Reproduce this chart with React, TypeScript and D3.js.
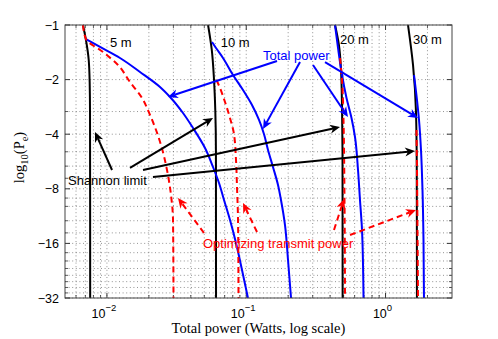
import React from "react";
import * as d3 from "d3";

// log10(Pe) vs total power, one curve per link distance
const distances = ["5 m", "10 m", "20 m", "30 m"];

// Shannon limit (black)
const limit5 = [[0.00673, -1], [0.00707, -1.21], [0.0074, -1.56], [0.00752, -2.1], [0.00756, -3], [0.00758, -32]];
const limit10 = [[0.0532, -1], [0.0565, -1.36], [0.0587, -2.0], [0.06, -3.0], [0.0606, -5], [0.0607, -32]];
const limit20 = [[0.434, -1], [0.463, -1.29], [0.479, -1.77], [0.487, -2.8], [0.491, -5], [0.492, -32]];
const limit30 = [[1.45, -1], [1.575, -1.66], [1.654, -3.0], [1.675, -6], [1.68, -32]];

// total power (blue)
const total5 = [[0.00707, -1.195], [0.00892, -1.322], [0.01241, -1.52], [0.01727, -1.816], [0.02404, -2.197], [0.02837, -2.494], [0.03516, -3.056], [0.04148, -3.696], [0.0506, -4.766], [0.05774, -6.066], [0.06377, -7.43], [0.06926, -9.22], [0.07647, -11.89], [0.08444, -15.92], [0.09326, -22.43], [0.1029, -32]];
const total10 = [[0.0568, -1.241], [0.06067, -1.339], [0.0681, -1.52], [0.08036, -1.887], [0.0948, -2.282], [0.11, -2.761], [0.1235, -3.34], [0.1342, -4], [0.1434, -4.889], [0.1556, -6.066], [0.1691, -7.62], [0.1776, -9.22], [0.1898, -12.67], [0.1995, -19.76], [0.2097, -32]];
const total20 = [[0.4338, -1], [0.4559, -1.339], [0.483, -1.816], [0.5246, -2.526], [0.5697, -3.257], [0.6036, -4.145], [0.6345, -6.3], [0.6555, -9.22], [0.6779, -13.5], [0.695, -32]];
const total30 = [[1.601, -1.887], [1.682, -2.591], [1.739, -3.34], [1.797, -4.889], [1.842, -8.12], [1.873, -15.33], [1.888, -32]];

// optimizing transmit power (red dashed)
const optim5 = [[0.00673, -1], [0.00707, -1.195], [0.00937, -1.409], [0.012, -1.662], [0.01464, -2.062], [0.01786, -2.526], [0.02038, -3.135], [0.02251, -3.792], [0.02444, -4.588], [0.02699, -6.3], [0.02884, -8.655], [0.02981, -11.89], [0.03005, -32]];
const optim10 = [[0.06116, -2.01], [0.0648, -2.225], [0.0704, -2.658], [0.07647, -3.257], [0.0817, -4], [0.08444, -5.551], [0.08585, -7.82], [0.0873, -11.89], [0.088, -32]];
const optim20 = [[0.4712, -1.52], [0.4869, -2.01], [0.4992, -3.34], [0.5075, -9.22], [0.5116, -32]];
const optim30 = [[1.668, -3.792], [1.682, -6.3], [1.696, -13.5], [1.71, -32]];

const yTicks = [-1, -2, -4, -8, -16, -32];
const yMinor = [-3, -5, -6, -7, -9, -10, -12, -14, -18, -20, -22, -24, -26, -28, -30];
const xTicks = [0.01, 0.1, 1];
const xTickExp = ["\u22122", "\u22121", "0"];

// annotation anchors, data coords
const distLabelPos = [[0.01052, -1.314], [0.06555, -1.314], [0.4712, -1.265], [1.575, -1.265]];
const totalLabelPos = [0.132, -1.559];
const totalArrows = [
  [[0.1663, -1.579], [0.02744, -2.494]],
  [[0.2432, -1.6], [0.132, -3.744]],
  [[0.3015, -1.662], [0.5376, -3.216]],
  [[0.3677, -1.6], [1.71, -3.257]],
];
const shannonLabelPos = [0.005254, -7.62];
const shannonArrows = [
  [[0.01088, -6.3], [0.00821, -3.89]],
  [[0.01464, -6.14], [0.05774, -3.257]],
  [[0.01816, -6.3], [0.4712, -3.65]],
  [[0.0214, -6.888], [1.628, -4.95]],
];
const optimLabelPos = [0.04894, -16.96];
const optimArrows = [
  [[0.04975, -14.02], [0.03238, -8.99]],
  [[0.1195, -13.84], [0.0948, -9.58]],
  [[0.4266, -13.5], [0.5034, -9.1]],
  [[0.556, -14.38], [1.654, -10.47]],
];

const W = 498, H = 339;
const L = 65, R = 452, T = 25, B = 298;
const SANS = "'Liberation Sans', Arial, Helvetica, sans-serif";
const SERIF = "'Liberation Serif', 'Times New Roman', serif";
const BLUE = "#0000ff", RED = "#ff0000";

const x = d3.scaleLog().domain([0.005, 3]).range([L, R]);
const y = d3.scaleLog().domain([1, 32]).range([T, B]);
const px = (d: number[]) => [x(d[0]), y(-d[1])];

const line = d3
  .line<number[]>()
  .x((d) => x(d[0]))
  .y((d) => y(-d[1]))
  .curve(d3.curveMonotoneY);

function Arrow({ from, to, color, dashed }: any) {
  const [x0, y0] = px(from);
  const [x1, y1] = px(to);
  const len = Math.hypot(x1 - x0, y1 - y0);
  const ux = (x1 - x0) / len, uy = (y1 - y0) / len;
  const nx = -uy, ny = ux;
  const hl = 10, hw = 4.5;
  const bx = x1 - ux * hl, by = y1 - uy * hl;
  const mx = x1 - ux * hl * 0.7, my = y1 - uy * hl * 0.7;
  const head = [
    [x1, y1],
    [bx + nx * hw, by + ny * hw],
    [mx, my],
    [bx - nx * hw, by - ny * hw],
  ];
  return (
    <g>
      <line x1={x0} y1={y0} x2={mx} y2={my} stroke={color} strokeWidth={2}
        strokeDasharray={dashed ? "6,4" : undefined} />
      <polygon points={head.map((p) => p.join(",")).join(" ")} fill={color} />
    </g>
  );
}

export default function App() {
  const xMinor: number[] = [];
  for (let k = -3; k <= 0; k++)
    for (let m = 1; m <= 9; m++) {
      const v = m * Math.pow(10, k);
      if (v > 0.005 && v < 3 && !xTicks.includes(+v.toPrecision(3))) xMinor.push(v);
    }

  const limits = [limit5, limit10, limit20, limit30];
  const totals = [total5, total10, total20, total30];
  const optims = [optim5, optim10, optim20, optim30];

  const grid = { stroke: "#666", strokeWidth: 0.7, strokeDasharray: "1,2.6" };

  return (
    <svg width={W} height={H} style={{ position: "absolute", left: 0, top: 0, background: "#fff" }}>
      <rect x={L} y={T} width={R - L} height={B - T} fill="#fff" />
      {/* grid */}
      {[...xMinor, ...xTicks].map((v, i) => (
        <line key={"gx" + i} x1={x(v)} x2={x(v)} y1={T} y2={B} {...grid} />
      ))}
      {[...yMinor, ...yTicks].map((v, i) => (
        <line key={"gy" + i} x1={L} x2={R} y1={y(-v)} y2={y(-v)} {...grid} />
      ))}
      {/* ticks */}
      {xTicks.map((v, i) => (
        <g key={"tx" + i} stroke="#333" strokeWidth={1}>
          <line x1={x(v)} x2={x(v)} y1={B} y2={B - 5} />
          <line x1={x(v)} x2={x(v)} y1={T} y2={T + 5} />
        </g>
      ))}
      {xMinor.map((v, i) => (
        <g key={"tmx" + i} stroke="#333" strokeWidth={0.8}>
          <line x1={x(v)} x2={x(v)} y1={B} y2={B - 3} />
          <line x1={x(v)} x2={x(v)} y1={T} y2={T + 3} />
        </g>
      ))}
      {yTicks.map((v, i) => (
        <g key={"ty" + i} stroke="#333" strokeWidth={1}>
          <line x1={L} x2={L + 5} y1={y(-v)} y2={y(-v)} />
          <line x1={R} x2={R - 5} y1={y(-v)} y2={y(-v)} />
        </g>
      ))}
      {yMinor.map((v, i) => (
        <g key={"tmy" + i} stroke="#333" strokeWidth={0.8}>
          <line x1={L} x2={L + 3} y1={y(-v)} y2={y(-v)} />
          <line x1={R} x2={R - 3} y1={y(-v)} y2={y(-v)} />
        </g>
      ))}

      {/* curves */}
      {limits.map((d, i) => (
        <path key={"l" + i} d={line(d) || ""} fill="none" stroke="#000" strokeWidth={2} />
      ))}
      {totals.map((d, i) => (
        <path key={"t" + i} d={line(d) || ""} fill="none" stroke={BLUE} strokeWidth={2} />
      ))}
      {optims.map((d, i) => (
        <path key={"o" + i} d={line(d) || ""} fill="none" stroke={RED} strokeWidth={2} strokeDasharray="6,4" />
      ))}

      {/* annotations */}
      <g fontFamily={SANS} fontSize={13}>
        {distances.map((s, i) => (
          <text key={"d" + i} x={px(distLabelPos[i])[0]} y={px(distLabelPos[i])[1]} fill="#000">{s}</text>
        ))}
        <text x={px(totalLabelPos)[0]} y={px(totalLabelPos)[1]} fill={BLUE}>Total power</text>
        <text x={px(shannonLabelPos)[0]} y={px(shannonLabelPos)[1]} fill="#000">Shannon limit</text>
        <text x={px(optimLabelPos)[0]} y={px(optimLabelPos)[1]} fill={RED}>Optimizing transmit power</text>
      </g>
      {totalArrows.map((a, i) => <Arrow key={"ta" + i} from={a[0]} to={a[1]} color={BLUE} />)}
      {shannonArrows.map((a, i) => <Arrow key={"sa" + i} from={a[0]} to={a[1]} color="#000" />)}
      {optimArrows.map((a, i) => <Arrow key={"oa" + i} from={a[0]} to={a[1]} color={RED} dashed />)}

      {/* box */}
      <rect x={L} y={T} width={R - L} height={B - T} fill="none" stroke="#444" strokeWidth={1} />

      {/* tick labels */}
      <g fontFamily={SANS} fontSize={12.5} fill="#000">
        {yTicks.map((v, i) => (
          <text key={"yl" + i} x={L - 6} y={y(-v) + 4.5} textAnchor="end">{String(v).replace("-", "\u2212")}</text>
        ))}
        {xTicks.map((v, i) => (
          <text key={"xl" + i} x={x(v) - 3} y={B + 20} textAnchor="middle">
            10<tspan dy={-7} fontSize={9.5}>{xTickExp[i]}</tspan>
          </text>
        ))}
      </g>

      {/* axis labels */}
      <text x={(L + R) / 2} y={333} textAnchor="middle" fontFamily={SERIF} fontSize={14.5}>
        Total power (Watts, log scale)
      </text>
      <text transform={`translate(24,${(T + B) / 2 - 4}) rotate(-90)`} textAnchor="middle" fontFamily={SERIF} fontSize={14.5}>
        log<tspan dy={4} fontSize={10.5}>10</tspan><tspan dy={-4}>(P</tspan><tspan dy={4} fontSize={10.5}>e</tspan><tspan dy={-4}>)</tspan>
      </text>
    </svg>
  );
}
